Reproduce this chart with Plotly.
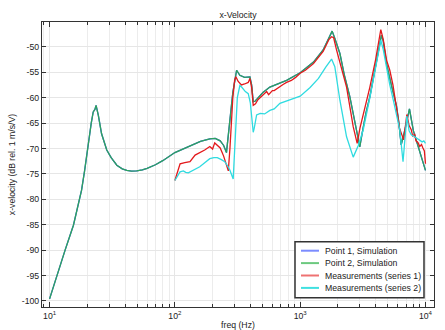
import plotly.graph_objects as go

# ---- data ----
sim_freq = [10, 11.4, 13.3, 15.5, 17, 18, 19, 20.4, 21.5, 22.3, 23.0, 23.5, 24.5, 26, 28.6, 31, 34.4, 38, 41.3, 45,
            49.6, 55, 60, 70, 80, 100, 130, 160, 190, 210, 230, 245, 258, 275, 290, 311, 330, 360, 397, 410,
            422, 436, 460, 507, 573, 689, 779, 1000, 1277, 1525, 1700, 1800, 1900, 2075, 2250, 2490, 2815, 2990, 3150, 3350,
            3600, 3900, 4200, 4450, 4600, 4900, 5400, 5870, 6100, 6400, 6900, 7450, 8000, 8700, 9300, 10000]
sim_db = [-99.6, -95.0, -90.0, -85.1, -81.0, -78.2, -74.5, -68.4, -65.0, -62.8, -62.3, -61.5, -63.5, -67.1, -70.3, -71.8, -73.3, -74.0, -74.3, -74.45,
          -74.4, -74.2, -73.9, -73.2, -72.4, -70.8, -69.5, -68.6, -68.1, -68.0, -68.5, -69.4, -70.8, -65.0, -59.0, -54.6, -55.6, -56.0, -55.9, -57.5,
          -60.8, -60.7, -60.0, -58.9, -57.9, -57.2, -56.6, -55.1, -53.0, -50.6, -48.0, -46.9, -48.5, -51.3, -55.5, -59.8, -66.4, -69.7, -66.5, -63.0,
          -59.8, -55.0, -51.0, -47.7, -48.8, -53.5, -58.0, -61.6, -64.5, -69.3, -66.0, -62.2, -66.5, -69.5, -72.0, -74.3]

meas1_freq = [100, 105, 110, 120, 132, 145, 160, 173, 190, 200, 208, 220, 230, 245, 258, 267, 275, 290, 300, 307,
              320, 340, 360, 385, 397, 410, 422, 440, 460, 490, 507, 525, 540, 560, 573, 600, 620, 650, 689, 730,
              779, 850, 920, 1000, 1100, 1277, 1525, 1700, 1780, 1850, 1950, 2100, 2345, 2650, 2850, 3000, 3300, 3600, 4000, 4400,
              4600, 4890, 5190, 5500, 5870, 6200, 6700, 7100, 7400, 7700, 7900, 8200, 8400, 8700, 9000, 9300, 9500, 9800, 10000]
meas1_db = [-76.3, -74.5, -73.0, -72.8, -72.6, -71.3, -70.8, -70.3, -69.6, -70.1, -68.9, -69.5, -69.9, -71.5, -73.0, -74.4, -70.0, -60.0, -56.5, -55.9,
            -56.8, -57.5, -57.3, -57.0, -56.2, -58.0, -61.5, -61.2, -60.4, -59.8, -59.3, -59.0, -58.8, -59.4, -59.1, -58.6, -58.6, -58.2, -57.8, -57.4,
            -57.0, -56.6, -56.0, -55.2, -54.6, -53.3, -50.9, -48.5, -48.0, -48.2, -50.6, -53.5, -57.9, -65.7, -69.0, -66.0, -62.0, -57.9, -52.5, -46.6,
            -48.5, -52.6, -54.6, -57.5, -62.0, -66.0, -68.3, -63.3, -65.5, -66.3, -67.5, -67.2, -68.5, -68.8, -69.6, -69.2, -69.8, -70.5, -73.0]

meas2_freq = [100, 105, 110, 117, 122, 128, 140, 158, 175, 190, 205, 218, 235, 250, 265, 275, 292, 305, 315, 330,
              341, 365, 385, 400, 415, 422, 430, 449, 480, 520, 573, 620, 689, 800, 1000, 1200, 1400, 1600, 1780, 1890,
              2075, 2345, 2650, 2900, 3180, 3600, 4000, 4400, 4600, 4890, 5190, 5600, 6240, 6620, 7100, 7400, 7700, 8200, 8800, 9400,
              9700, 10000]
meas2_db = [-76.3, -75.3, -74.6, -74.4, -74.7, -74.8, -74.3, -73.6, -72.7, -72.0, -71.8, -71.8, -72.2, -72.6, -73.5, -74.3, -76.0, -68.0, -60.0, -57.6,
            -57.9, -58.8, -59.2, -61.0, -65.5, -66.8, -66.0, -63.4, -63.1, -63.2, -62.5, -62.2, -61.1, -60.5, -59.7, -58.0, -56.2, -54.0, -52.4, -53.9,
            -60.5, -67.7, -71.7, -69.5, -66.4, -60.0, -54.0, -48.7, -50.5, -54.0, -57.5, -61.0, -66.4, -72.6, -63.6, -66.5, -67.3, -67.7, -68.3, -68.7,
            -68.5, -69.0]

series_names = ["Point 1, Simulation", "Point 2, Simulation", "Measurements (series 1)", "Measurements (series 2)"]
y_ticks = [-50, -55, -60, -65, -70, -75, -80, -85, -90, -95, -100]
x_major = [10, 100, 1000, 10000]
x_major_text = ["10<sup>1</sup>", "10<sup>2</sup>", "10<sup>3</sup>", "10<sup>4</sup>"]

assert len(sim_freq) == len(sim_db)
assert len(meas1_freq) == len(meas1_db)
assert len(meas2_freq) == len(meas2_db)

FONT = "Liberation Sans"
FS = 8.7
W, H = 445, 330
ML, MR, MT, MB = 42, 11, 22, 23
PW, PH = W - ML - MR, H - MT - MB

x_minor = [9] + [m * d for d in (10, 100, 1000) for m in range(2, 10)]

colors = ["#3b55f5", "#2ea35c", "#e3191c", "#2fdbe0"]
legend_colors = ["#7b8cff", "#6cc97f", "#ee7272", "#40e0e0"]

fig = go.Figure()
data = [(sim_freq, sim_db), (sim_freq, sim_db), (meas1_freq, meas1_db), (meas2_freq, meas2_db)]
for (fx, fy), name, c in zip(data, series_names, colors):
    fig.add_trace(go.Scatter(x=fx, y=fy, name=name, mode="lines",
                             line=dict(color=c, width=1.3), showlegend=False))


def px_x(p):
    return (p - ML) / PW


def px_y(p):
    return (H - MB - p) / PH


# legend box drawn in paper coordinates (plotly's native legend rows are too tall)
shapes = [dict(type="rect", xref="paper", yref="paper",
               x0=px_x(295), x1=px_x(424), y0=px_y(297.7), y1=px_y(241.7),
               line=dict(color="#333", width=1.5), fillcolor="white", layer="above")]
annotations = []
row_y = [250.7, 263.1, 275.5, 287.9]
for name, c, ry in zip(series_names, legend_colors, row_y):
    shapes.append(dict(type="line", xref="paper", yref="paper",
                       x0=px_x(301), x1=px_x(319), y0=px_y(ry), y1=px_y(ry),
                       line=dict(color=c, width=2), layer="above"))
    annotations.append(dict(xref="paper", yref="paper", x=px_x(323), y=px_y(ry),
                            xanchor="left", yanchor="middle", text=name, showarrow=False,
                            font=dict(family=FONT, size=FS, color="#222")))

fig.update_layout(
    width=W, height=H,
    margin=dict(l=ML, r=MR, t=MT, b=MB, autoexpand=False),
    paper_bgcolor="white", plot_bgcolor="white",
    font=dict(family=FONT, size=FS, color="#222"),
    title=dict(text="x-Velocity", x=0.5, xanchor="center", xref="paper",
               y=1 - 15 / H, yanchor="middle", font=dict(size=FS)),
    showlegend=False,
    hovermode=False,
    shapes=shapes,
    annotations=annotations,
)
fig.update_xaxes(
    type="log", range=[0.9395, 4.068], automargin=False,
    tickmode="array", tickvals=x_major, ticktext=x_major_text,
    ticks="inside", ticklen=5, tickcolor="#333",
    showgrid=True, gridcolor="#e6e6e6", gridwidth=1,
    showline=True, linecolor="#333", linewidth=1.2, mirror="allticks",
    zeroline=False,
    minor=dict(tickmode="array", tickvals=x_minor, ticks="inside", ticklen=3,
               tickcolor="#333", showgrid=True, gridcolor="#ececec", gridwidth=1),
    title=dict(text="freq (Hz)", standoff=2, font=dict(size=FS)),
    tickfont=dict(size=FS),
)
fig.update_yaxes(
    range=[-101.2, -45.1], automargin=False,
    tickmode="array", tickvals=y_ticks, ticktext=[str(v) for v in y_ticks],
    ticks="inside", ticklen=4, tickcolor="#333",
    showgrid=True, gridcolor="#e6e6e6", gridwidth=1,
    showline=True, linecolor="#333", linewidth=1.2, mirror="allticks",
    zeroline=False,
    title=dict(text="x-velocity (dB rel. 1 m/s/V)", standoff=4, font=dict(size=FS)),
    tickfont=dict(size=FS),
)

fig.write_html("out.html", config={"displayModeBar": False},
               post_script="document.body.style.margin='0';")
